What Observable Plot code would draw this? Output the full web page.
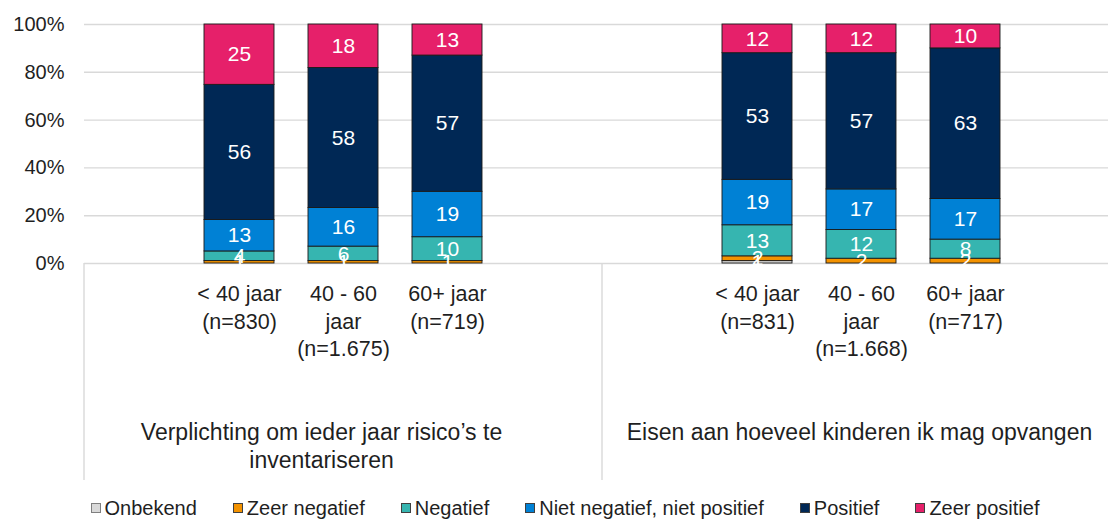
<!DOCTYPE html>
<html>
<head>
<meta charset="utf-8">
<script src="https://cdn.jsdelivr.net/npm/d3@7"></script>
<script src="https://cdn.jsdelivr.net/npm/@observablehq/plot@0.6"></script>
<style>
  html, body { margin: 0; padding: 0; background: #fff; overflow: hidden; }
  body { font-family: "Liberation Sans", Arial, sans-serif; width: 1108px; height: 520px; position: relative; }
  #chart svg { display: block; max-width: none !important; }
  #legend { position: absolute; left: 0; top: 496px; width: 1108px; box-sizing: border-box; padding-left: 22px;
            display: flex; justify-content: center; align-items: center; font-size: 20px; line-height: 24px; color: #1f1f1f; }
  #legend .item { display: flex; align-items: center; margin: 0 18px; white-space: nowrap; }
  #legend .sw { width: 10px; height: 10px; box-sizing: border-box; border: 1px solid #404040; margin-right: 4px; }
</style>
</head>
<body>
<div id="chart"></div>
<div id="legend"></div>
<script>
// ---- data ----
const topics = ["Verplichting om ieder jaar risico’s te inventariseren", "Eisen aan hoeveel kinderen ik mag opvangen"];
const topicLabels = ["Verplichting om ieder jaar risico’s te\ninventariseren", "Eisen aan hoeveel kinderen ik mag opvangen"];
const ages = ["< 40 jaar", "40 - 60 jaar", "60+ jaar"];
const ageLabels1 = ["< 40 jaar\n(n=830)", "40 - 60\njaar\n(n=1.675)", "60+ jaar\n(n=719)"];
const ageLabels2 = ["< 40 jaar\n(n=831)", "40 - 60\njaar\n(n=1.668)", "60+ jaar\n(n=717)"];
const categories = ["Onbekend", "Zeer negatief", "Negatief", "Niet negatief, niet positief", "Positief", "Zeer positief"];
const colors = ["#d9d9d9", "#f39200", "#36b5b0", "#0081d5", "#002855", "#e6206a"];
// bars: topic 1 (<40, 40-60, 60+), topic 2 (<40, 40-60, 60+)
const onbekend      = [0, 0, 0, 1, 0, 0];
const zeerNegatief  = [1, 1, 1, 2, 2, 2];
const negatief      = [4, 6, 10, 13, 12, 8];
const nietNegatief  = [13, 16, 19, 19, 17, 17];
const positief      = [56, 58, 57, 53, 57, 63];
const zeerPositief  = [25, 18, 13, 12, 12, 10];
const yTicks = [0, 0.2, 0.4, 0.6, 0.8, 1];

// ---- tables ----
const seriesValues = [onbekend, zeerNegatief, negatief, nietNegatief, positief, zeerPositief];
const ageLabels = [ageLabels1, ageLabels2];
const rows = [];
topics.forEach((t, ti) => ages.forEach((a, ai) => categories.forEach((c, ci) =>
  rows.push({topic: t, age: a, cat: c, value: seriesValues[ci][ti * 3 + ai]}))));
const labelRows = [];
topics.forEach((t, ti) => ages.forEach((a, ai) => labelRows.push({topic: t, age: a, label: ageLabels[ti][ai]})));
const topicRows = topics.map((t, i) => ({topic: t, label: topicLabels[i]}));

const W = 1120, H = 486;
const topicText = (i, dx) => Plot.text([topicRows[i]], {fx: "topic", text: "label", frameAnchor: "bottom", lineAnchor: "top",
  dy: 157, dx, lineHeight: 1.22, fontSize: 23, fill: "#1f1f1f"});
const chart = Plot.plot({
  width: W, height: H,
  marginTop: 24, marginBottom: 223, marginLeft: 83, marginRight: 0,
  style: {fontFamily: "Liberation Sans, Arial, sans-serif", fontSize: "20px", color: "#1f1f1f", background: "white", overflow: "visible", maxWidth: "none"},
  fx: {domain: topics, padding: 0, axis: null},
  x: {domain: ages, paddingInner: 0.33, paddingOuter: 1.155, axis: null},
  y: {domain: [0, 1], ticks: yTicks, tickFormat: d => Math.round(d * 100) + "%", tickSize: 0, tickPadding: 20, label: null},
  color: {domain: categories, range: colors},
  marks: [
    Plot.ruleY(yTicks, {stroke: "#d9d9d9", strokeWidth: 1.4}),
    Plot.barY(rows, Plot.stackY({fx: "topic", x: "age", y: "value", fill: "cat", offset: "normalize",
      stroke: "#1a1a1a", strokeWidth: 0.9})),
    Plot.text(rows, Plot.stackY({fx: "topic", x: "age", y: "value", z: "cat", offset: "normalize",
      text: d => d.value > 0 ? String(d.value) : "", fill: "white", fontSize: 21})),
    Plot.text(labelRows, {fx: "topic", x: "age", text: "label", frameAnchor: "bottom", lineAnchor: "top",
      dy: 18, lineHeight: 1.28, fontSize: 21.5, fill: "#1f1f1f"}),
    topicText(0, -22),
    topicText(1, -2)
  ]
});
document.getElementById("chart").appendChild(chart);

// category separators below the axis
const sfx = chart.scale("fx");
const sy = chart.scale("y");
const y0 = sy.apply(0);
let xs = topics.map(t => sfx.apply(t));
xs.push(sfx.apply(topics[topics.length - 1]) + sfx.bandwidth);
const svg = d3.select(chart.tagName.toLowerCase() === "svg" ? chart : chart.querySelector("svg"));
svg.append("g").selectAll("line").data(xs).join("line")
  .attr("x1", d => d).attr("x2", d => d).attr("y1", y0).attr("y2", H - 6)
  .attr("stroke", "#d9d9d9").attr("stroke-width", 1.4);

// legend
const legend = d3.select("#legend");
categories.forEach((c, i) => {
  const it = legend.append("div").attr("class", "item");
  it.append("div").attr("class", "sw").style("background", colors[i]).style("border-color", i === 0 ? "#7f7f7f" : "#404040");
  it.append("span").text(c);
});
</script>
</body>
</html>
